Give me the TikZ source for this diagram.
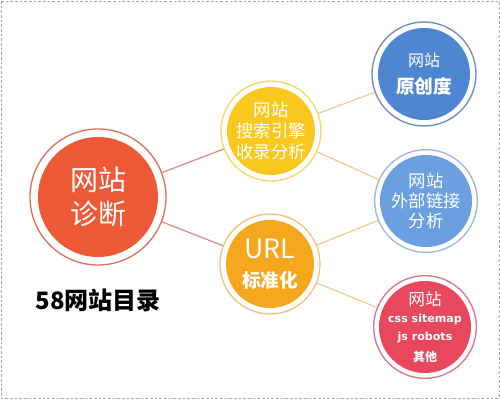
\documentclass[tikz,border=0pt]{standalone}
\usepackage{fontspec}
\newfontfamily\cjk{Noto Sans CJK SC}
\newfontfamily\latwide{DejaVu Sans}
\definecolor{mainred}{HTML}{EE5A35}
\definecolor{mainring}{HTML}{D9735F}
\definecolor{yel}{HTML}{F8C81E}
\definecolor{yelring}{HTML}{F3D868}
\definecolor{org}{HTML}{F5A71E}
\definecolor{orgring}{HTML}{F0C27E}
\definecolor{blueA}{HTML}{4F86D2}
\definecolor{blueAring}{HTML}{6A8CC4}
\definecolor{blueB}{HTML}{6A9FE0}
\definecolor{blueBring}{HTML}{9DB7E0}
\definecolor{pink}{HTML}{E8485E}
\definecolor{pinkring}{HTML}{D77A88}
\definecolor{linkred}{HTML}{D98A80}
\definecolor{linkorg}{HTML}{F2CC8F}
\tikzset{
  bubble/.style n args={4}{circle, draw=#1, line width=1pt, fill=white,
    minimum size=#3, inner sep=0pt, text=white, align=center,
    path picture={\fill[#2] (path picture bounding box.center) circle[radius=#4];}},
  link/.style={line width=0.9pt},
  frame/.style={draw=gray!70, line width=0.6pt, dash pattern=on 2pt off 1.5pt}
}
\begin{document}
\begin{tikzpicture}[x=0.75pt,y=-0.75pt]
\useasboundingbox (0,0) rectangle (500,400);
\draw[frame] (1,1) rectangle (499,398);

\node[bubble={mainring}{mainred}{102pt}{45pt}, font=\cjk\fontsize{21pt}{25pt}\selectfont] (main) at (98,197)
  {网站\\诊断};
\node[bubble={yelring}{yel}{75pt}{33pt}, font=\cjk\fontsize{13pt}{16pt}\selectfont] (yel) at (271,131)
  {网站\\搜索引擎\\收录分析};
\node[bubble={orgring}{org}{75pt}{33pt}, font=\cjk\fontsize{20pt}{21pt}\selectfont] (org) at (270,264)
  {URL\\[1pt]{\fontsize{14pt}{16pt}\selectfont\bfseries 标准化}};
\node[bubble={blueAring}{blueA}{78pt}{34.5pt}, font=\cjk\fontsize{12pt}{20pt}\selectfont] (bA) at (424,74)
  {网站\\{\fontsize{14pt}{16pt}\selectfont\bfseries 原创度}};
\node[bubble={blueBring}{blueB}{77pt}{34.5pt}, font=\cjk\fontsize{13pt}{15pt}\selectfont] (bB) at (426,201)
  {网站\\外部链接\\分析};
\node[bubble={pinkring}{pink}{77pt}{34.5pt}, font=\cjk\fontsize{12.5pt}{14pt}\selectfont] (pk) at (425,327)
  {网站\\[-1pt]{\latwide\bfseries\fontsize{8.3pt}{11pt}\selectfont css sitemap}\\[-1pt]{\latwide\bfseries\fontsize{8.3pt}{11pt}\selectfont js robots}\\[2pt]{\fontsize{9pt}{10pt}\selectfont\bfseries 其他}};

\node[font=\cjk\bfseries\fontsize{18pt}{20pt}\selectfont, text=black] (title) at (98,300) {58网站目录};

\draw[link, linkred] (main) -- (yel);
\draw[link, linkred] (main) -- (org);
\draw[link, linkorg] (yel) -- (bA);
\draw[link, linkorg] (yel) -- (bB);
\draw[link, linkorg] (org) -- (bB);
\draw[link, linkorg] (org) -- (pk);
\end{tikzpicture}
\end{document}
